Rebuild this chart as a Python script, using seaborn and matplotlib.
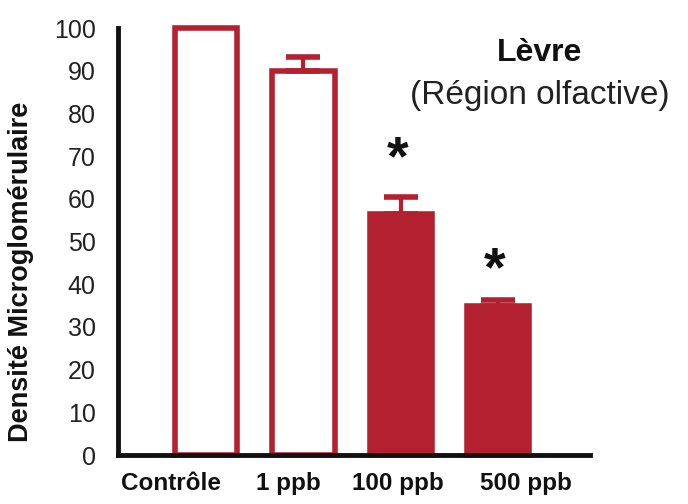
import matplotlib
matplotlib.use("Agg")
import matplotlib.pyplot as plt
import seaborn as sns
import pandas as pd

categories = ["Contrôle", "1 ppb", "100 ppb", "500 ppb"]
values = [100, 90, 56.5, 35]
errors = [0, 3.3, 4.0, 1.4]
filled = [False, False, True, True]
star_values = [None, None, 69, 43]
label_positions = [-0.36, 0.84, 1.97, 3.29]
yticks = list(range(0, 101, 10))

RED = "#b3202f"
sns.set_theme(style="white")
plt.rcParams["font.family"] = ["Liberation Sans", "DejaVu Sans"]

df = pd.DataFrame({"cat": categories, "val": values})

fig = plt.figure(figsize=(6.88, 5.04), dpi=100)
ax = fig.add_axes([0.1715, 0.0972, 0.686, 0.8472])

sns.barplot(data=df, x="cat", y="val", color=RED, width=0.64,
            errorbar=None, ax=ax, saturation=1)

for patch, f in zip(ax.patches, filled):
    patch.set_edgecolor(RED)
    patch.set_linewidth(4)
    patch.set_facecolor(RED if f else "white")
    patch.set_clip_on(False)

xs = list(range(len(categories)))
ex = [x for x, e in zip(xs, errors) if e > 0]
ev = [v for v, e in zip(values, errors) if e > 0]
ee = [e for e in errors if e > 0]
ax.errorbar(ex, ev, yerr=[[0] * len(ee), ee], fmt="none", ecolor=RED,
            elinewidth=3, capsize=12.5, capthick=4, zorder=1)

for x, s in zip(xs, star_values):
    if s is not None:
        ax.text(x - 0.03, s, "*", ha="center", va="center", fontsize=40,
                fontweight="bold", color="#111111")

ax.set_xlim(-0.91, 3.95)
ax.set_ylim(0, 100)
ax.set_yticks(yticks)
ax.set_yticklabels([str(t) for t in yticks], fontsize=18, color="#222222")
ax.set_xticks(label_positions)
ax.set_xticklabels(categories, fontsize=17.5, fontweight="bold", color="#111111")
ax.tick_params(axis="x", length=0, pad=12)
ax.tick_params(axis="y", length=14, width=2.5, color="#111111", pad=2,
               direction="out")

for side in ["top", "right"]:
    ax.spines[side].set_visible(False)
ax.spines["left"].set_linewidth(3.5)
ax.spines["left"].set_color("#111111")
ax.spines["bottom"].set_linewidth(3.5)
ax.spines["bottom"].set_color("#111111")

ax.set_xlabel("")
ax.set_ylabel("Densité Microglomérulaire", fontsize=19.5, fontweight="bold",
              color="#111111")
ax.yaxis.set_label_coords(-0.178, 0.43)

ax.text(0.894, 0.941, "Lèvre", transform=ax.transAxes, ha="center", va="center",
        fontsize=23, fontweight="bold", color="#111111")
ax.text(0.894, 0.843, "(Région olfactive)", transform=ax.transAxes, ha="center",
        va="center", fontsize=24, color="#222222")

fig.savefig("out.png", dpi=100)
